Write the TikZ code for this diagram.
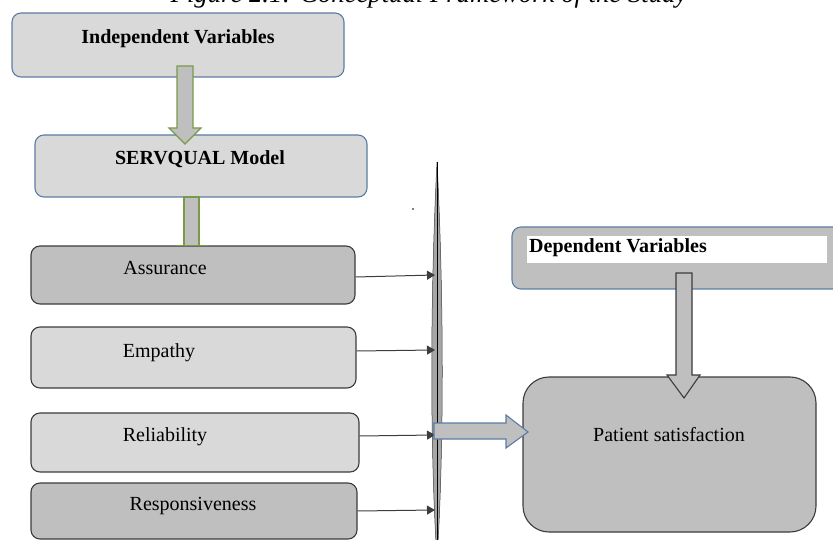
\documentclass[tikz,border=0pt]{standalone}
\usepackage{fontspec}
\setmainfont{Liberation Serif}
\usetikzlibrary{arrows.meta}
\definecolor{lightfill}{HTML}{D9D9D9}
\definecolor{darkfill}{HTML}{BFBFBF}
\definecolor{blueline}{HTML}{5A7CA6}
\definecolor{darkline}{HTML}{3C3C3C}
\definecolor{greenline}{HTML}{7A9A48}
\definecolor{lensfill}{HTML}{A6A6A6}
\tikzset{
  box/.style={draw, rounded corners=9pt, line width=1.1pt, inner sep=0pt},
  bluebox/.style={box, draw=blueline, fill=lightfill},
  greybox/.style={box, draw=darkline, fill=lightfill},
  darkbox/.style={box, draw=darkline, fill=darkfill},
  lbl/.style={anchor=base, inner sep=0pt, font=\fontsize{20}{24}\selectfont},
  blbl/.style={lbl, font=\fontsize{20}{24}\selectfont\bfseries},
  thinarrow/.style={draw=darkline, line width=1pt, -{Triangle[length=8pt,width=9pt]}},
  greenblock/.style={draw=greenline, fill=darkfill, line width=1.1pt, line join=miter},
  blueblock/.style={draw=blueline, fill=darkfill, line width=1.1pt, line join=miter},
  darkblock/.style={draw=darkline, fill=darkfill, line width=1.1pt, line join=miter}
}
\begin{document}
\begin{tikzpicture}[x=1pt, y=-1pt]
\useasboundingbox (0,0) rectangle (833,540);
\clip (0,0) rectangle (833,540);

% caption (cut at top)
\node[anchor=base, inner sep=0pt, font=\itshape\fontsize{26.7}{30}\selectfont] (cap) at (429,3) {Figure 2.1: Conceptual Framework of the Study};

% independent variables
\node[bluebox, minimum width=332pt, minimum height=64pt] (indep) at (178,45) {};
\node[blbl] (indepT) at (178,44) {Independent Variables};

% SERVQUAL
\node[bluebox, minimum width=332pt, minimum height=62pt] (serv) at (201,166) {};
\node[blbl] (servT) at (200,165) {SERVQUAL Model};

% block arrow indep -> serv
\draw[greenblock] (177,66) -- (193,66) -- (193,128) -- (201,128) -- (185,144) -- (169,128) -- (177,128) -- cycle;

% dimension boxes
\node[darkbox, minimum width=324pt, minimum height=58pt] (assur) at (193,275) {};
\node[lbl] (assurT) at (165,275) {Assurance};
\node[greybox, minimum width=325pt, minimum height=61pt] (emp) at (193.5,357.5) {};
\node[lbl] (empT) at (159,357) {Empathy};
\node[greybox, minimum width=328pt, minimum height=59pt] (rel) at (195,442.5) {};
\node[lbl] (relT) at (165,441) {Reliability};
\node[darkbox, minimum width=326pt, minimum height=56pt] (resp) at (194,511) {};
\node[lbl] (respT) at (193,510) {Responsiveness};

% connector serv -> assurance
\draw[greenblock] (184,197) rectangle (199,245.5);
\draw[greenline, line width=1.1pt] (176,245.5) -- (207,245.5);

% lens / vertical bar
\coordinate (lensTop) at (437,162);
\coordinate (lensBot) at (437,560);
\draw[fill=lensfill, draw=darkline, line width=0.5pt] (lensTop) .. controls (430,300) and (430,450) .. (lensBot) .. controls (444,450) and (444,300) .. (lensTop) -- cycle;
\draw[black, line width=0.9pt] (lensTop) -- (lensBot);

% small dot
\fill[black] (413,209) circle (0.8pt);

% thin arrows to lens
\coordinate (lensL1) at (435,275);
\coordinate (lensL2) at (435,350);
\coordinate (lensL3) at (435,435);
\coordinate (lensL4) at (435,510);
\draw[thinarrow] (assur.east |- 0,277) -- (lensL1);
\draw[thinarrow] (emp.east |- 0,351) -- (lensL2);
\draw[thinarrow] (rel.east |- 0,436) -- (lensL3);
\draw[thinarrow] (resp.east |- 0,511) -- (lensL4);

% dependent variables
\node[box, draw=blueline, fill=darkfill, minimum width=330pt, minimum height=62pt] (dep) at (677,258) {};
\fill[white] (527,236) rectangle (827,263);
\node[anchor=base west, inner sep=0pt, font=\fontsize{20}{24}\selectfont\bfseries] (depT) at (529,253) {Dependent Variables};

% patient satisfaction
\node[box, draw=darkline, fill=darkfill, rounded corners=26pt, minimum width=293pt, minimum height=155pt] (pat) at (669.5,454.5) {};
\node[lbl] (patT) at (669,441) {Patient satisfaction};

% block arrow dep -> pat
\draw[darkblock] (676,273) -- (692,273) -- (692,375) -- (700,375) -- (684,398) -- (667,375) -- (676,375) -- cycle;

% block arrow lens -> pat
\draw[blueblock] (434,423) -- (506,423) -- (506,415) -- (528,432) -- (506,448) -- (506,439) -- (434,439) -- cycle;
\end{tikzpicture}
\end{document}
